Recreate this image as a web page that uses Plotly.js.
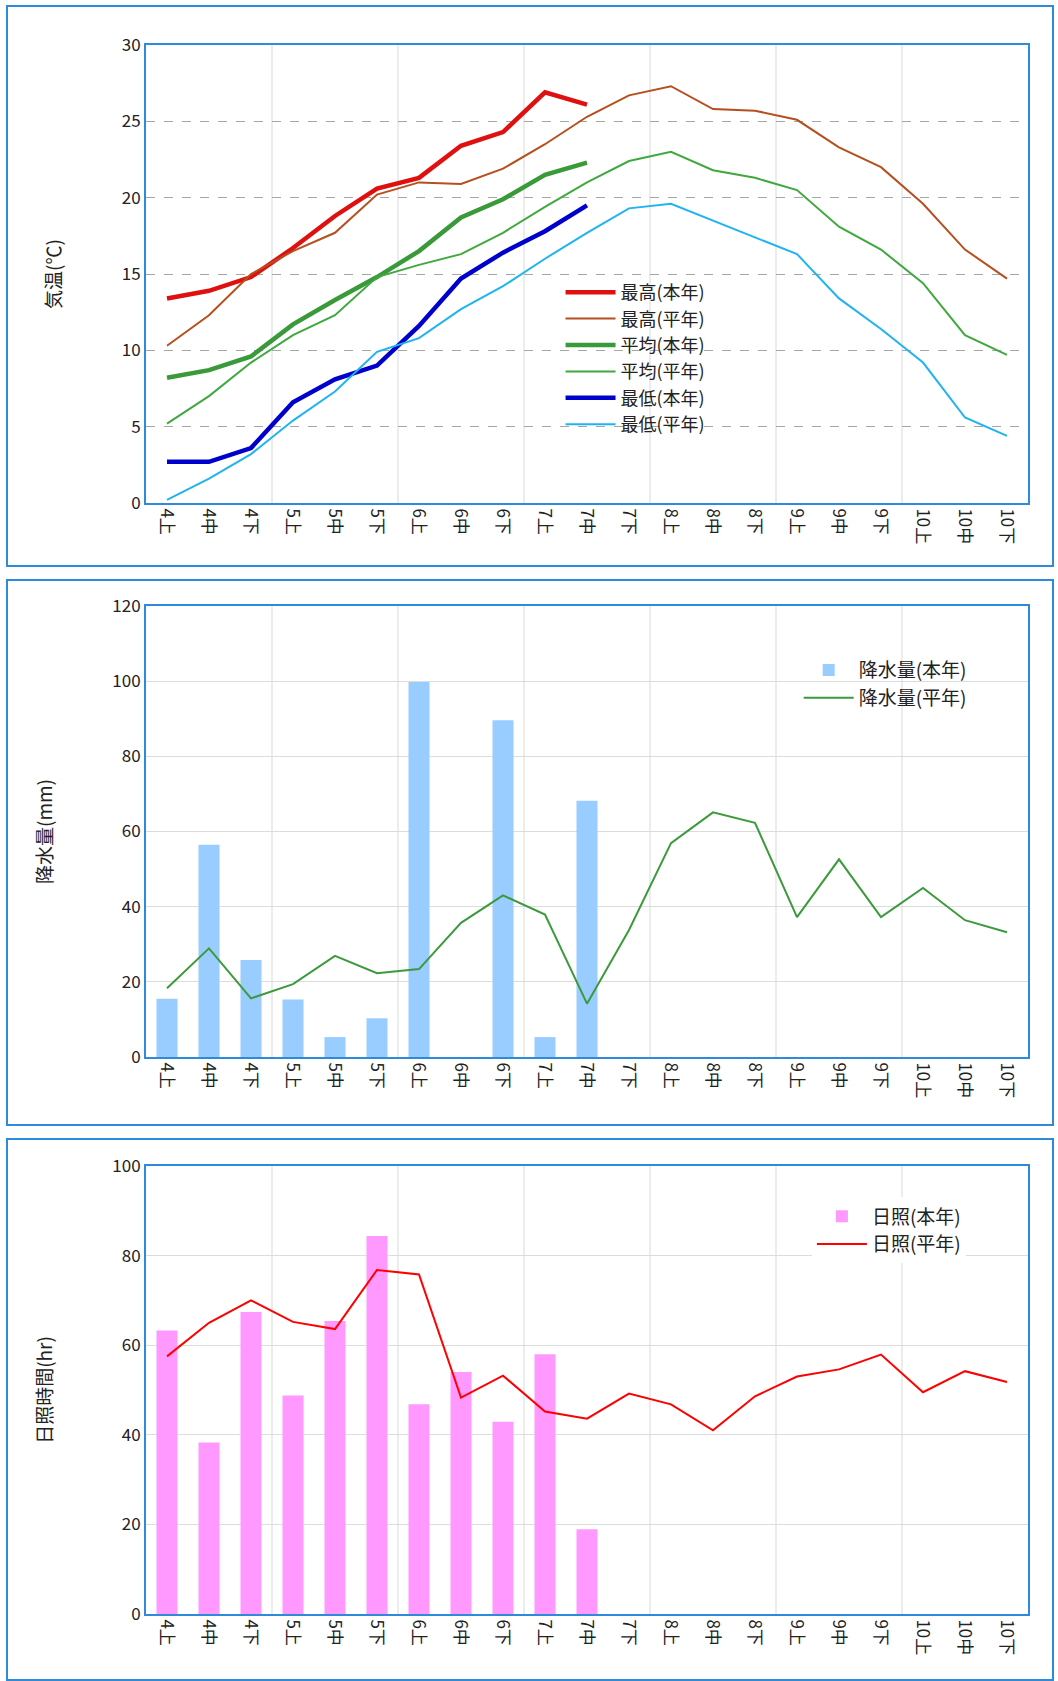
<!DOCTYPE html>
<html><head><meta charset="utf-8">
<script src="https://cdn.plot.ly/plotly-3.0.1.min.js"></script>
<style>
body{margin:0;background:#fff;width:1058px;height:1681px;position:relative;overflow:hidden}
.p{position:absolute;left:6px;width:1048px;border:2px solid #2e8bdc;box-sizing:border-box}
</style></head><body>
<div id="c1" class="p" style="top:5px;height:562px"></div>
<div id="c2" class="p" style="top:579px;height:547px"></div>
<div id="c3" class="p" style="top:1138px;height:543px"></div>
<script>
const cats=["4上","4中","4下","5上","5中","5下","6上","6中","6下","7上","7中","7下","8上","8中","8下","9上","9中","9下","10上","10中","10下"];
const thisCats=cats.slice(0,11);
const maxThis=[13.4,13.9,14.8,16.7,18.8,20.6,21.3,23.4,24.3,26.9,26.1];
const maxNorm=[10.3,12.3,15.0,16.5,17.7,20.2,21.0,20.9,21.9,23.5,25.3,26.7,27.3,25.8,25.7,25.1,23.3,22.0,19.6,16.6,14.7];
const avgThis=[8.2,8.7,9.6,11.7,13.3,14.8,16.5,18.7,19.9,21.5,22.3];
const avgNorm=[5.2,7.0,9.2,11.0,12.3,14.8,15.6,16.3,17.7,19.4,21.0,22.4,23.0,21.8,21.3,20.5,18.1,16.6,14.4,11.0,9.7];
const minThis=[2.7,2.7,3.6,6.6,8.1,9.0,11.6,14.7,16.4,17.8,19.5];
const minNorm=[0.2,1.6,3.2,5.4,7.3,9.9,10.8,12.7,14.2,16.0,17.7,19.3,19.6,18.5,17.4,16.3,13.4,11.4,9.2,5.6,4.4];
const rainThis=[15.5,56.5,25.8,15.3,5.3,10.3,99.8,0,89.6,5.3,68.2];
const rainNorm=[18.3,28.9,15.6,19.4,26.9,22.3,23.4,35.7,43.0,37.9,14.2,33.8,56.9,65.1,62.3,37.2,52.6,37.2,45.0,36.4,33.2];
const sunThis=[63.3,38.3,67.4,48.8,65.4,84.4,46.8,54.0,42.9,58.0,18.9];
const sunNorm=[57.5,65.0,70.0,65.2,63.6,76.8,75.8,48.3,53.2,45.2,43.6,49.2,46.8,41.0,48.6,53.0,54.6,57.9,49.5,54.2,51.8];

const F="Noto Sans CJK JP, sans-serif";
const vlines=[2.5,5.5,8.5,11.5,14.5,17.5].map(v=>({type:'line',xref:'x',yref:'paper',x0:v,x1:v,y0:0,y1:1,line:{color:'#d9d9d9',width:1},layer:'below'}));
function lay(ytitle,range,dtick,dash,legend,margin){
 return {width:1044,height:margin.h,margin:{l:138,r:24,t:margin.t,b:margin.b},paper_bgcolor:'#fff',plot_bgcolor:'#fff',
  font:{family:F,size:17,color:'#222'},showlegend:true,legend:legend,shapes:vlines,bargap:0.5,
  xaxis:{type:'category',categoryarray:cats,range:[-0.5,20.5],tickangle:90,showgrid:false,ticks:'',linecolor:'#2e8bdc',linewidth:2,mirror:true,tickfont:{size:17,family:F}},
  yaxis:{title:{text:ytitle,font:{size:19,family:F},standoff:55},range:range,dtick:dtick,showgrid:true,gridcolor:dash?'#a6a6a6':'#dcdcdc',griddash:dash?'dash':'solid',linecolor:'#2e8bdc',linewidth:2,mirror:true,ticks:'',zeroline:false,tickfont:{size:17,family:F}}};
}
const leg1={x:0.47,y:0.5,xanchor:'left',yanchor:'top',bgcolor:'rgba(255,255,255,0)',font:{size:18,family:F},tracegroupgap:0,itemwidth:50};
Plotly.newPlot('c1',[
 {x:thisCats,y:maxThis,name:'最高(本年)',mode:'lines',line:{color:'#e01010',width:4.5}},
 {x:cats,y:maxNorm,name:'最高(平年)',mode:'lines',line:{color:'#b5501e',width:2}},
 {x:thisCats,y:avgThis,name:'平均(本年)',mode:'lines',line:{color:'#3a9a3a',width:4.5}},
 {x:cats,y:avgNorm,name:'平均(平年)',mode:'lines',line:{color:'#3fa83f',width:2}},
 {x:thisCats,y:minThis,name:'最低(本年)',mode:'lines',line:{color:'#0000cc',width:4.5}},
 {x:cats,y:minNorm,name:'最低(平年)',mode:'lines',line:{color:'#1fb4ef',width:2}}
],lay('気温(℃)',[0,30],5,true,leg1,{h:558,t:38,b:62}),{displayModeBar:false,staticPlot:true});
Plotly.newPlot('c2',[
 {x:thisCats,y:rainThis,name:'降水量(本年)',type:'bar',marker:{color:'#99ccff'}},
 {x:cats,y:rainNorm,name:'降水量(平年)',mode:'lines',line:{color:'#3c9a3c',width:2}}
],lay('降水量(mm)',[0,120],20,false,{x:0.74,y:0.9,xanchor:'left',yanchor:'top',bgcolor:'rgba(255,255,255,0)',font:{size:19},itemwidth:50},{h:543,t:25,b:67}),{displayModeBar:false,staticPlot:true});
Plotly.newPlot('c3',[
 {x:thisCats,y:sunThis,name:'日照(本年)',type:'bar',marker:{color:'#ff99ff'}},
 {x:cats,y:sunNorm,name:'日照(平年)',mode:'lines',line:{color:'#ff0000',width:2}}
],lay('日照時間(hr)',[0,100],20,false,{x:0.755,y:0.93,xanchor:'left',yanchor:'top',bgcolor:'#fff',font:{size:19},itemwidth:50},{h:539,t:26,b:65}),{displayModeBar:false,staticPlot:true});
</script></body></html>
